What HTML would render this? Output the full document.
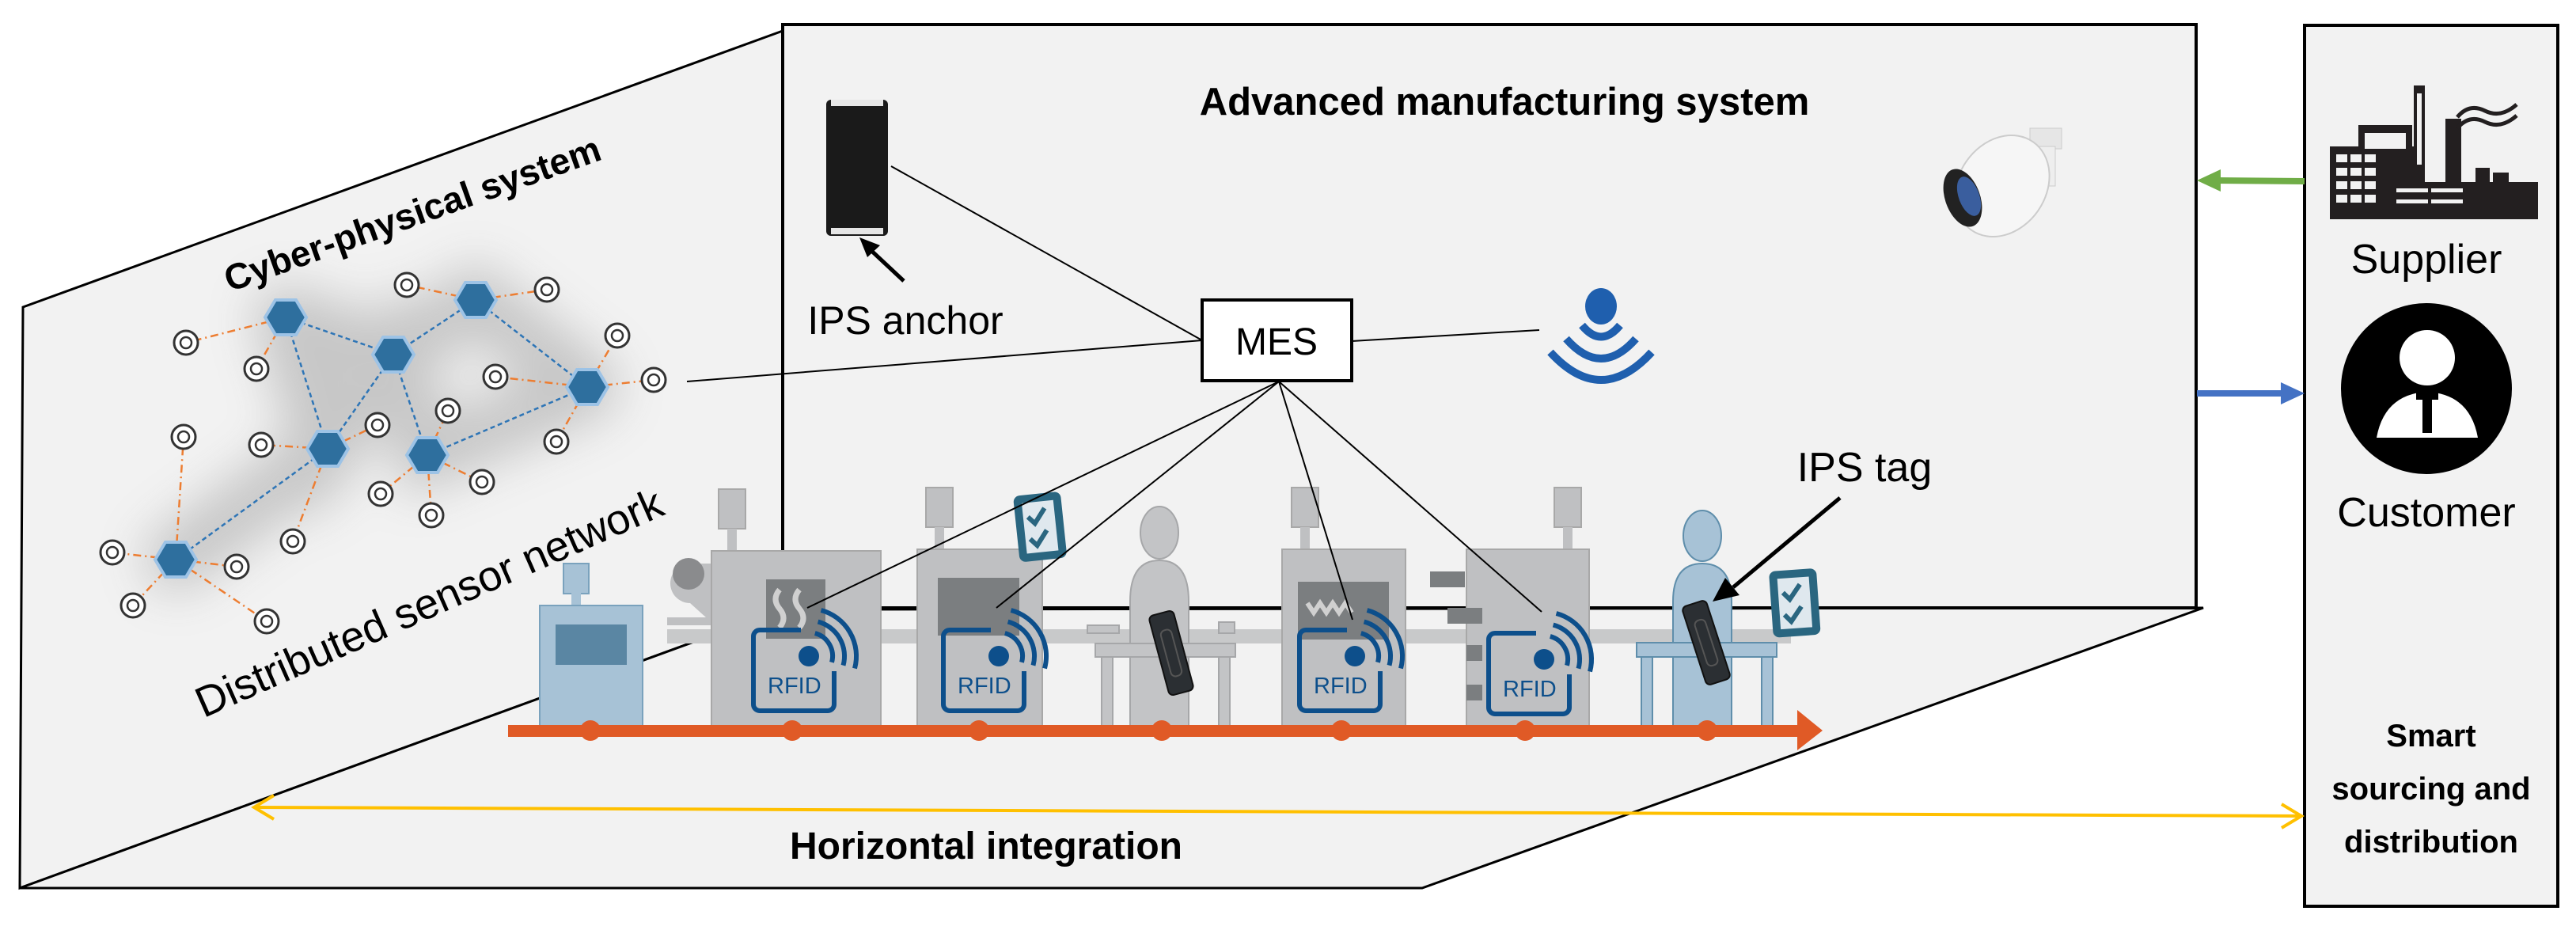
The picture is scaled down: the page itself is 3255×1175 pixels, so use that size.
<!DOCTYPE html>
<html><head><meta charset="utf-8"><style>
html,body{margin:0;padding:0;background:#fff;}
svg{display:block;}
text{font-family:"Liberation Sans",sans-serif;}
</style></head><body>
<svg width="3255" height="1175" viewBox="0 0 3255 1175" xmlns="http://www.w3.org/2000/svg">
<defs>
<filter id="blur" x="-50%" y="-50%" width="200%" height="200%"><feGaussianBlur stdDeviation="30"/></filter>
<g id="rfid">
 <path d="M60,0 H8 a8 8 0 0 0 -8 8 V94 a8 8 0 0 0 8 8 H94 a8 8 0 0 0 8 -8 V52" fill="none" stroke="#0d4f8b" stroke-width="6"/>
 <circle cx="70" cy="33" r="13" fill="#0d4f8b"/>
 <path d="M77.8,4 A30 30 0 0 1 99,40.8 M81.6,-10.5 A45 45 0 0 1 113.5,44.7 M85.5,-25 A60 60 0 0 1 128,48.5" fill="none" stroke="#0d4f8b" stroke-width="6"/>
 <text x="18" y="80" font-size="29" fill="#0d4f8b">RFID</text>
</g>
<g id="stem">
 <rect x="0" y="0" width="34" height="50" fill="#bfc0c2" stroke="#a8a8a8" stroke-width="2"/>
 <rect x="11" y="50" width="12" height="28" fill="#bfc0c2"/>
</g>
<g id="clip">
 <rect x="0" y="0" width="60" height="84" rx="8" fill="#2a6680"/>
 <rect x="10" y="10" width="40" height="64" fill="#dfe8ee"/>
 <path d="M16,28 l8,9 l14,-18 M16,56 l8,9 l14,-18" fill="none" stroke="#2a6680" stroke-width="6"/>
</g>
<g id="tag">
 <rect x="-16" y="-52" width="32" height="104" rx="6" fill="#2b2f33" stroke="#111" stroke-width="2"/>
 <rect x="-7" y="-30" width="14" height="60" rx="6" fill="none" stroke="#555" stroke-width="2"/>
</g>
</defs>

<!-- planes -->
<polygon points="29,388 989,39 989,770 25,1122" fill="#f2f2f2" stroke="#000" stroke-width="3"/>
<polygon points="25,1122 989,770 2784,768 1797,1122" fill="#f2f2f2" stroke="#000" stroke-width="3"/>
<rect x="989" y="31" width="1786" height="737" fill="#f2f2f2" stroke="#000" stroke-width="4"/>
<line x1="25" y1="1122" x2="1797" y2="1122" stroke="#000" stroke-width="3"/>

<!-- right box -->
<rect x="2912" y="32" width="320" height="1113" fill="#f2f2f2" stroke="#000" stroke-width="4"/>

<!-- sensor network shadow -->
<g filter="url(#blur)" opacity="0.35">
 <path d="M361,401 L497,448 L601,379 L742,489 M361,401 L414,567 L497,448 L540,575 L742,489 M414,567 L222,707" stroke="#777" stroke-width="80" fill="none" stroke-linecap="round"/>
</g>
<g stroke="#ed7d31" stroke-width="2.5" stroke-dasharray="10,5,2,5" fill="none">
 <path d="M361,401 L235,433 M361,401 L324,466 M601,379 L514,360 M601,379 L691,366 M742,489 L780,424 M742,489 L626,476 M742,489 L826,480 M742,489 L703,558 M414,567 L477,537 M414,567 L330,562 M414,567 L370,684 M540,575 L566,519 M540,575 L609,609 M540,575 L481,624 M540,575 L545,651 M222,707 L232,552 M222,707 L142,698 M222,707 L299,716 M222,707 L168,765 M222,707 L337,785"/>
</g>
<g stroke="#2e75b6" stroke-width="2.5" stroke-dasharray="6,4" fill="none">
 <path d="M361,401 L497,448 L601,379 L742,489 M361,401 L414,567 L497,448 L540,575 L742,489 M414,567 L222,707"/>
</g>
<g fill="#fff" stroke="#333" stroke-width="3">
 <circle cx="235" cy="433" r="15"/><circle cx="324" cy="466" r="15"/><circle cx="514" cy="360" r="15"/><circle cx="691" cy="366" r="15"/><circle cx="780" cy="424" r="15"/><circle cx="626" cy="476" r="15"/><circle cx="826" cy="480" r="15"/><circle cx="703" cy="558" r="15"/><circle cx="477" cy="537" r="15"/><circle cx="566" cy="519" r="15"/><circle cx="330" cy="562" r="15"/><circle cx="232" cy="552" r="15"/><circle cx="609" cy="609" r="15"/><circle cx="481" cy="624" r="15"/><circle cx="545" cy="651" r="15"/><circle cx="370" cy="684" r="15"/><circle cx="142" cy="698" r="15"/><circle cx="299" cy="716" r="15"/><circle cx="168" cy="765" r="15"/><circle cx="337" cy="785" r="15"/>
</g>
<g fill="none" stroke="#333" stroke-width="2.5">
 <circle cx="235" cy="433" r="7"/><circle cx="324" cy="466" r="7"/><circle cx="514" cy="360" r="7"/><circle cx="691" cy="366" r="7"/><circle cx="780" cy="424" r="7"/><circle cx="626" cy="476" r="7"/><circle cx="826" cy="480" r="7"/><circle cx="703" cy="558" r="7"/><circle cx="477" cy="537" r="7"/><circle cx="566" cy="519" r="7"/><circle cx="330" cy="562" r="7"/><circle cx="232" cy="552" r="7"/><circle cx="609" cy="609" r="7"/><circle cx="481" cy="624" r="7"/><circle cx="545" cy="651" r="7"/><circle cx="370" cy="684" r="7"/><circle cx="142" cy="698" r="7"/><circle cx="299" cy="716" r="7"/><circle cx="168" cy="765" r="7"/><circle cx="337" cy="785" r="7"/>
</g>
<g fill="#2e6f9e" stroke="#9dc3e6" stroke-width="4">
 <polygon points="-26,0 -13,-22 13,-22 26,0 13,22 -13,22" transform="translate(361,401)"/>
 <polygon points="-26,0 -13,-22 13,-22 26,0 13,22 -13,22" transform="translate(497,448)"/>
 <polygon points="-26,0 -13,-22 13,-22 26,0 13,22 -13,22" transform="translate(601,379)"/>
 <polygon points="-26,0 -13,-22 13,-22 26,0 13,22 -13,22" transform="translate(742,489)"/>
 <polygon points="-26,0 -13,-22 13,-22 26,0 13,22 -13,22" transform="translate(414,567)"/>
 <polygon points="-26,0 -13,-22 13,-22 26,0 13,22 -13,22" transform="translate(540,575)"/>
 <polygon points="-26,0 -13,-22 13,-22 26,0 13,22 -13,22" transform="translate(222,707)"/>
</g>

<text x="521" y="286" font-size="46" font-weight="bold" text-anchor="middle" transform="rotate(-19.6 521 270)">Cyber-physical system</text>
<text x="542" y="780" font-size="54" text-anchor="middle" transform="rotate(-23.8 542 761)">Distributed sensor network</text>

<!-- Top labels -->
<text x="1901" y="145" font-size="49" font-weight="bold" text-anchor="middle">Advanced manufacturing system</text>
<text x="1144" y="422" font-size="50" text-anchor="middle">IPS anchor</text>
<text x="2356" y="608" font-size="52" text-anchor="middle">IPS tag</text>

<!-- anchor device -->
<rect x="1044" y="126" width="78" height="172" rx="6" fill="#1a1a1a"/>
<rect x="1050" y="126" width="66" height="8" fill="#e6e6e6"/>
<rect x="1050" y="288" width="66" height="8" fill="#e6e6e6"/>
<line x1="1142" y1="355" x2="1096" y2="312" stroke="#000" stroke-width="5"/>
<polygon points="1086,300 1112,310 1096,325" fill="#000"/>

<!-- camera -->
<g>
 <rect x="2565" y="162" width="40" height="26" fill="#e6e6e6" stroke="#ccc"/>
 <rect x="2575" y="185" width="22" height="50" fill="#eee" stroke="#ccc"/>
 <ellipse cx="2530" cy="235" rx="55" ry="68" transform="rotate(35 2530 235)" fill="#f6f6f6" stroke="#ccc" stroke-width="2"/>
 <ellipse cx="2480" cy="250" rx="22" ry="38" transform="rotate(-20 2480 250)" fill="#222"/>
 <ellipse cx="2488" cy="248" rx="13" ry="26" transform="rotate(-20 2488 248)" fill="#3a5e9e"/>
</g>

<!-- wifi -->
<g fill="none" stroke="#1f5fae" stroke-width="10">
 <ellipse cx="2023" cy="387" rx="20" ry="23" fill="#1f5fae" stroke="none"/>
 <path d="M1999,411 Q2023,440 2047,411"/>
 <path d="M1979,428 Q2023,478 2067,428"/>
 <path d="M1959,445 Q2023,515 2087,445"/>
</g>

<!-- MES lines -->
<g stroke="#000" stroke-width="2" fill="none">
 <line x1="868" y1="482" x2="1519" y2="430"/>
 <line x1="1126" y1="210" x2="1519" y2="430"/>
 <line x1="1708" y1="431" x2="1945" y2="417"/>
</g>
<rect x="1519" y="379" width="189" height="102" fill="#fff" stroke="#000" stroke-width="4"/>
<text x="1613" y="448" font-size="48" text-anchor="middle">MES</text>

<!-- gray belt band -->
<rect x="843" y="795" width="1420" height="18" fill="#c8c9ca"/>

<!-- blue first machine -->
<rect x="712" y="712" width="32" height="38" fill="#a7c2d6" stroke="#7aa2bd" stroke-width="2"/>
<rect x="722" y="748" width="12" height="18" fill="#a7c2d6"/>
<rect x="682" y="765" width="130" height="152" fill="#a7c2d6" stroke="#7aa2bd" stroke-width="2"/>
<rect x="702" y="789" width="90" height="51" fill="#5a86a3"/>

<!-- roll at machine1 -->
<path d="M899,712 H872 a25 25 0 0 0 0 50 l20,18 H843 v10 h56" fill="#bfc0c2"/>
<circle cx="870" cy="725" r="20" fill="#8a8b8d"/>

<!-- machine1 -->
<use href="#stem" x="908" y="618"/>
<rect x="899" y="696" width="214" height="221" fill="#bfc0c2" stroke="#a8a8a8" stroke-width="2"/>
<rect x="968" y="732" width="75" height="75" fill="#7b7e80"/>
<path d="M985,745 q-10,12 0,24 q10,12 0,24 M1010,745 q-10,12 0,24 q10,12 0,24" stroke="#d0d0d0" stroke-width="7" fill="none"/>
<use href="#rfid" x="952" y="796"/>

<!-- machine2 -->
<use href="#stem" x="1170" y="616"/>
<rect x="1159" y="694" width="158" height="223" fill="#bfc0c2" stroke="#a8a8a8" stroke-width="2"/>
<rect x="1185" y="730" width="103" height="73" fill="#7b7e80"/>
<use href="#rfid" x="1192" y="796"/>
<use href="#clip" transform="translate(1280,627) rotate(-6)"/>

<!-- worker1 -->
<g fill="#c3c4c6" stroke="#a6a7a9" stroke-width="2">
 <ellipse cx="1465" cy="673" rx="24" ry="33"/>
 <path d="M1428,917 V760 q0,-52 37,-52 q37,0 37,52 V917 Z"/>
 <rect x="1384" y="813" width="177" height="17"/>
 <rect x="1392" y="830" width="14" height="87"/>
 <rect x="1540" y="830" width="14" height="87"/>
 <rect x="1374" y="790" width="40" height="10"/>
 <rect x="1540" y="786" width="20" height="14"/>
</g>
<use href="#tag" transform="translate(1480,825) rotate(-15)"/>

<!-- machine3 -->
<use href="#stem" x="1632" y="616"/>
<rect x="1620" y="694" width="156" height="223" fill="#bfc0c2" stroke="#a8a8a8" stroke-width="2"/>
<rect x="1640" y="735" width="115" height="73" fill="#7b7e80"/>
<path d="M1652,762 l8,12 l8,-12 l8,12 l8,-12 l8,12 l8,-12 l8,12" stroke="#d0d0d0" stroke-width="6" fill="none"/>
<use href="#rfid" x="1642" y="796"/>

<!-- machine4 -->
<use href="#stem" x="1964" y="616"/>
<rect x="1853" y="694" width="155" height="223" fill="#bfc0c2" stroke="#a8a8a8" stroke-width="2"/>
<rect x="1807" y="722" width="44" height="20" fill="#7b7e80"/>
<rect x="1829" y="768" width="44" height="20" fill="#7b7e80"/>
<rect x="1853" y="815" width="20" height="20" fill="#7b7e80"/>
<rect x="1853" y="865" width="20" height="20" fill="#7b7e80"/>
<use href="#rfid" x="1881" y="800"/>

<!-- worker2 -->
<g fill="#a7c2d6" stroke="#5f8eab" stroke-width="2">
 <ellipse cx="2151" cy="677" rx="24" ry="32"/>
 <path d="M2114,917 V760 q0,-48 37,-48 q37,0 37,48 V917 Z"/>
 <rect x="2068" y="812" width="177" height="18"/>
 <rect x="2074" y="830" width="14" height="87"/>
 <rect x="2226" y="830" width="14" height="87"/>
</g>
<use href="#clip" transform="translate(2235,722) rotate(-4)"/>
<use href="#tag" transform="translate(2156,812) rotate(-18)"/>
<line x1="2325" y1="629" x2="2190" y2="742" stroke="#000" stroke-width="5"/>
<polygon points="2164,760 2180,730 2198,752" fill="#000"/>

<!-- connector lines to machines -->
<g stroke="#000" stroke-width="2" fill="none">
 <line x1="1616" y1="482" x2="1020" y2="768"/>
 <line x1="1616" y1="482" x2="1259" y2="768"/>
 <line x1="1616" y1="482" x2="1709" y2="783"/>
 <line x1="1616" y1="482" x2="1948" y2="773"/>
</g>

<!-- conveyor -->
<rect x="642" y="916" width="1632" height="15" fill="#e05a26"/>
<polygon points="2271,897 2303,923 2271,948" fill="#e05a26"/>
<g fill="#e05a26">
 <circle cx="746" cy="923" r="13"/><circle cx="1001" cy="923" r="13"/><circle cx="1237" cy="923" r="13"/><circle cx="1468" cy="923" r="13"/><circle cx="1695" cy="923" r="13"/><circle cx="1927" cy="923" r="13"/><circle cx="2157" cy="923" r="13"/>
</g>

<!-- horizontal integration -->
<line x1="321" y1="1020" x2="2908" y2="1031" stroke="#ffc000" stroke-width="4"/>
<polyline points="346,1005 321,1020 346,1035" fill="none" stroke="#ffc000" stroke-width="4"/>
<polyline points="2883,1016 2908,1031 2883,1046" fill="none" stroke="#ffc000" stroke-width="4"/>
<text x="1246" y="1085" font-size="48" font-weight="bold" text-anchor="middle">Horizontal integration</text>

<!-- green / blue arrows -->
<line x1="2912" y1="229" x2="2800" y2="228" stroke="#70ad47" stroke-width="8"/>
<polygon points="2776,228 2806,214 2806,242" fill="#70ad47"/>
<line x1="2776" y1="497" x2="2888" y2="497" stroke="#4472c4" stroke-width="8"/>
<polygon points="2912,497 2882,483 2882,511" fill="#4472c4"/>

<!-- supplier icon -->
<g fill="#231f20">
 <rect x="2944" y="185" width="120" height="92"/>
 <rect x="2980" y="158" width="68" height="30"/>
 <rect x="3050" y="108" width="14" height="110"/>
 <rect x="3090" y="150" width="20" height="127"/>
 <rect x="3064" y="230" width="143" height="47"/>
 <rect x="3128" y="212" width="18" height="65"/>
 <rect x="3150" y="218" width="20" height="59"/>
 <rect x="3178" y="235" width="14" height="42"/>
</g>
<g fill="#f2f2f2">
 <rect x="2952" y="195" width="14" height="10"/><rect x="2970" y="195" width="14" height="10"/><rect x="2988" y="195" width="14" height="10"/>
 <rect x="2952" y="212" width="14" height="10"/><rect x="2970" y="212" width="14" height="10"/><rect x="2988" y="212" width="14" height="10"/>
 <rect x="2952" y="229" width="14" height="10"/><rect x="2970" y="229" width="14" height="10"/><rect x="2988" y="229" width="14" height="10"/>
 <rect x="2952" y="246" width="14" height="10"/><rect x="2970" y="246" width="14" height="10"/><rect x="2988" y="246" width="14" height="10"/>
 <rect x="2988" y="168" width="52" height="20"/>
 <rect x="3028" y="238" width="40" height="5"/><rect x="3072" y="238" width="40" height="5"/>
 <rect x="3028" y="252" width="40" height="5"/><rect x="3072" y="252" width="40" height="5"/>
 <rect x="3054" y="118" width="6" height="90"/>
</g>
<path d="M3105,148 q15,-18 35,-8 q20,10 40,-8 M3105,162 q15,-18 35,-8 q20,10 40,-8" fill="none" stroke="#231f20" stroke-width="5"/>
<text x="3066" y="345" font-size="52" text-anchor="middle">Supplier</text>

<!-- customer icon -->
<circle cx="3066" cy="491" r="108" fill="#000"/>
<circle cx="3067" cy="452" r="35" fill="#fff"/>
<path d="M3003,553 q10,-55 64,-58 q54,3 64,58 Z" fill="#fff"/>
<rect x="3061" y="497" width="12" height="50" fill="#000"/>
<rect x="3053" y="495" width="28" height="10" fill="#000"/>
<text x="3066" y="665" font-size="52" text-anchor="middle">Customer</text>

<text x="3072" y="943" font-size="40" font-weight="bold" text-anchor="middle">Smart</text>
<text x="3072" y="1010" font-size="40" font-weight="bold" text-anchor="middle">sourcing and</text>
<text x="3072" y="1077" font-size="40" font-weight="bold" text-anchor="middle">distribution</text>
</svg>
</body></html>
